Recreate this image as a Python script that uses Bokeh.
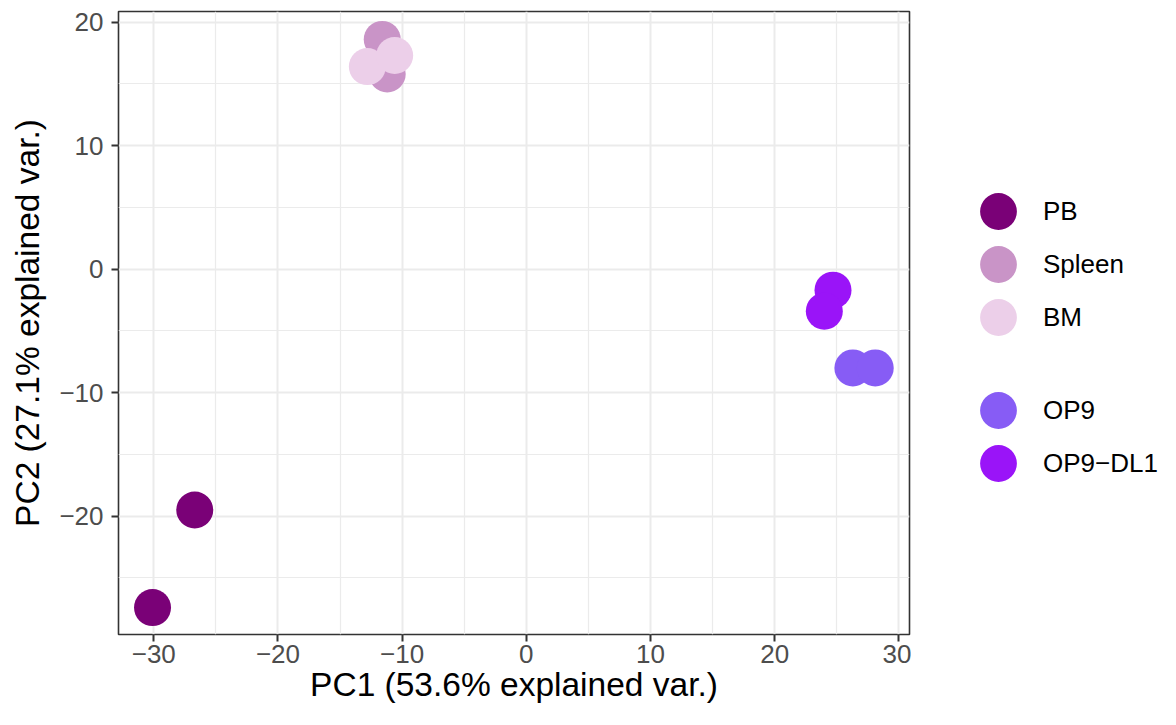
from bokeh.plotting import figure
from bokeh.layouts import row
from bokeh.models import (ColumnDataSource, Legend, LegendItem, FixedTicker,
                          CustomJSTickFormatter, Range1d)
from bokeh.embed import file_html
from bokeh.resources import INLINE

# ---- data ----
groups = ["PB", "Spleen", "BM", "OP9", "OP9\u2212DL1"]
colors = ["#7A0177", "#C994C7", "#ECCFE9", "#875CF5", "#9A14F8"]
pc1 = {
    "PB": [-30.1, -26.7],
    "Spleen": [-11.6, -11.2],
    "BM": [-12.8, -10.6],
    "OP9": [26.3, 28.1],
    "OP9\u2212DL1": [24.7, 24.0],
}
pc2 = {
    "PB": [-27.4, -19.5],
    "Spleen": [18.6, 15.8],
    "BM": [16.4, 17.3],
    "OP9": [-8.0, -8.0],
    "OP9\u2212DL1": [-1.7, -3.4],
}
x_ticks = [-30, -20, -10, 0, 10, 20, 30]
x_minor = [-25, -15, -5, 5, 15, 25]
y_ticks = [-20, -10, 0, 10, 20]
y_minor = [-25, -15, -5, 5, 15]
x_title = "PC1 (53.6% explained var.)"
y_title = "PC2 (27.1% explained var.)"

FONT = "Liberation Sans"

p = figure(output_backend="svg", toolbar_location=None,
           x_range=Range1d(-32.84, 30.86), y_range=Range1d(-29.58, 20.86),
           frame_width=791, frame_height=623,
           min_border_left=118, min_border_top=11, min_border_right=2,
           min_border_bottom=60)

p.background_fill_color = "white"
p.border_fill_color = "white"
p.outline_line_color = "#333333"
p.outline_line_width = 1.6

fmt = CustomJSTickFormatter(code="return tick < 0 ? '\u2212' + Math.abs(tick) : '' + tick;")

p.xaxis.ticker = FixedTicker(ticks=x_ticks, minor_ticks=x_minor)
p.yaxis.ticker = FixedTicker(ticks=y_ticks, minor_ticks=y_minor)
for ax in (p.xaxis, p.yaxis):
    ax.formatter = fmt
    ax.axis_line_color = None
    ax.major_tick_line_color = "#333333"
    ax.major_tick_line_width = 2
    ax.major_tick_out = 7
    ax.major_tick_in = 0
    ax.minor_tick_line_color = None
    ax.major_label_text_font = FONT
    ax.major_label_text_font_size = "26px"
    ax.major_label_text_color = "#4D4D4D"
    ax.axis_label_text_font = FONT
    ax.axis_label_text_font_size = "33.5px"
    ax.axis_label_text_font_style = "normal"
    ax.axis_label_text_color = "black"
p.xaxis.axis_label = x_title
p.yaxis.axis_label = y_title
p.xaxis.major_label_standoff = 3
p.yaxis.major_label_standoff = 8
p.xaxis.axis_label_standoff = 0
p.yaxis.axis_label_standoff = 10

for g in (p.xgrid, p.ygrid):
    g.grid_line_color = "#EBEBEB"
    g.grid_line_width = 2
    g.minor_grid_line_color = "#EBEBEB"
    g.minor_grid_line_width = 1.2

for g, c in zip(groups, colors):
    src = ColumnDataSource(dict(x=pc1[g], y=pc2[g]))
    p.scatter("x", "y", source=src, size=37, fill_color=c,
              line_color=c, line_width=0)

# ---- legend panel (separate figure so the legend is not clipped) ----
lf = figure(width=249, height=709, output_backend="svg", toolbar_location=None,
            x_range=Range1d(100, 101), y_range=Range1d(100, 101),
            x_axis_type=None, y_axis_type=None, min_border=0)
lf.outline_line_color = None
lf.background_fill_color = "white"
lf.border_fill_color = "white"

leg_r = {}
for g, c in zip(groups, colors):
    src = ColumnDataSource(dict(x=pc1[g], y=pc2[g]))
    leg_r[g] = lf.ellipse("x", "y", source=src, width=37, height=37,
                          width_units="screen", height_units="screen",
                          fill_color=c, line_color=c, line_width=0)

def make_legend(names, loc):
    return Legend(items=[LegendItem(label=n, renderers=[leg_r[n]]) for n in names],
                  location=loc, glyph_width=46, glyph_height=46, spacing=7,
                  padding=0, margin=0, label_standoff=22,
                  border_line_color=None, background_fill_alpha=0,
                  label_text_font=FONT, label_text_font_size="26px",
                  label_text_color="black")

lf.add_layout(make_legend(groups[:3], (64, 298)), "center")
lf.add_layout(make_legend(groups[3:], (64, 152)), "center")

layout = row(p, lf)
open("out.html", "w").write(file_html(layout, INLINE))
